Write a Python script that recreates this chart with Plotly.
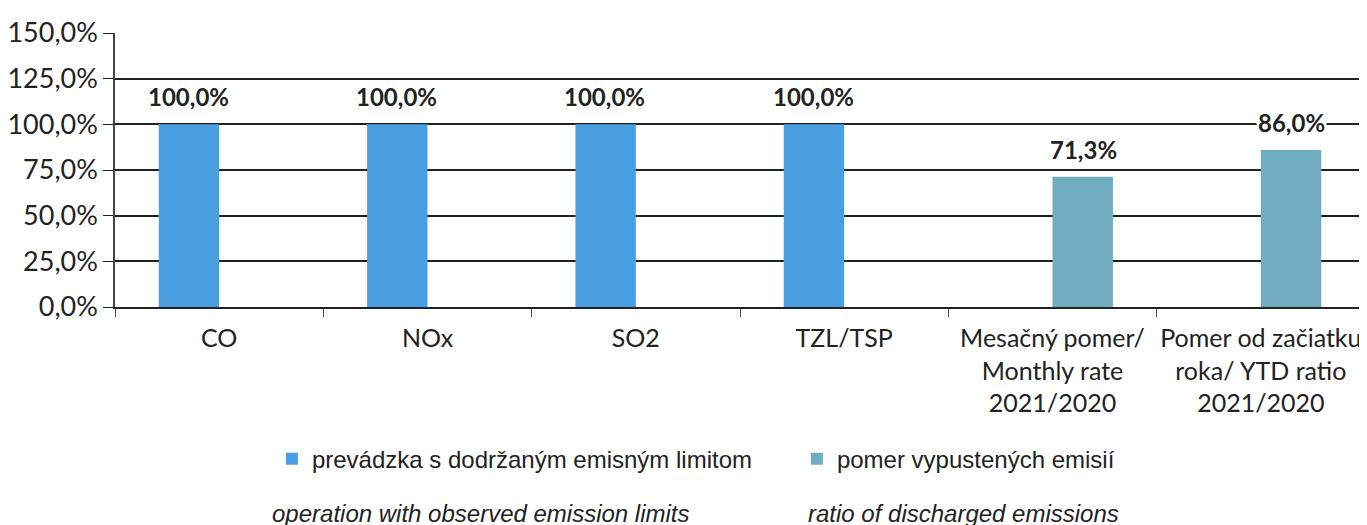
import plotly.graph_objects as go

categories = ["CO", "NOx", "SO2", "TZL/TSP",
              "Mesačný pomer/<br>Monthly rate<br>2021/2020",
              "Pomer od začiatku<br>roka/ YTD ratio<br>2021/2020"]
compliance = [100.0, 100.0, 100.0, 100.0, None, None]
ratio = [None, None, None, None, 71.3, 86.0]
series_names = ["prevádzka s dodržaným emisným limitom", "pomer vypustených emisií"]
series_en = ["operation with observed emission limits", "ratio of discharged emissions"]
yticks = [0, 25, 50, 75, 100, 125, 150]
ytick_labels = [f"{v:.1f}%".replace(".", ",") for v in yticks]

BLUE = "#4A9FE2"
TEAL = "#6FADBF"
FONT = "Lato, Carlito, Calibri, sans-serif"
NARROW = "Liberation Sans Narrow, Arial Narrow, Liberation Sans, sans-serif"

fig = go.Figure()
fig.add_trace(go.Bar(x=categories, y=compliance, name=series_names[0],
                     marker=dict(color=BLUE, line=dict(width=0))))
fig.add_trace(go.Bar(x=categories, y=ratio, name=series_names[1],
                     marker=dict(color=TEAL, line=dict(width=0))))

annotations = []
for vals, shift in ((compliance, -31), (ratio, 31)):
    for c, v in zip(categories, vals):
        if v is None:
            continue
        annotations.append(dict(x=c, y=v, xref="x", yref="y", xshift=shift, yshift=11,
                                yanchor="bottom", showarrow=False,
                                text=f"<b>{v:.1f}%</b>".replace(".", ","),
                                font=dict(family=FONT, size=24, color="#222"),
                                bgcolor="white", borderpad=1))
annotations.append(dict(x=0.124, y=-0.755, xref="paper", yref="paper", xanchor="left",
                        yanchor="middle", showarrow=False, text=f"<i>{series_en[0]}</i>",
                        font=dict(family=NARROW, size=24, color="#222")))
annotations.append(dict(x=0.553, y=-0.755, xref="paper", yref="paper", xanchor="left",
                        yanchor="middle", showarrow=False, text=f"<i>{series_en[1]}</i>",
                        font=dict(family=NARROW, size=24, color="#222")))

fig.update_layout(
    width=1367, height=525,
    margin=dict(l=107, r=10, t=25, b=226, autoexpand=False),
    paper_bgcolor="white", plot_bgcolor="white",
    separators=", ",
    barmode="group", bargap=0.42, bargroupgap=0,
    showlegend=True,
    legend=dict(orientation="h", x=0.1255, y=-0.555, xanchor="left", yanchor="middle",
                font=dict(family=NARROW, size=24, color="#222"),
                entrywidth=480, itemwidth=30, bgcolor="rgba(0,0,0,0)"),
    annotations=annotations,
    font=dict(family=FONT, color="#222"),
)
fig.update_xaxes(showline=True, linecolor="#222", linewidth=2, ticks="outside",
                 ticklen=8, tickcolor="#444", tickson="boundaries", tickangle=0,
                 automargin=False, ticklabelstandoff=8,
                 tickfont=dict(family=FONT, size=25, color="#222"), showgrid=False)
fig.update_yaxes(range=[0, 150], tickvals=yticks, ticktext=ytick_labels,
                 showline=True, linecolor="#444", linewidth=1.5, ticks="outside",
                 ticklen=10, tickcolor="#222", showgrid=True, gridcolor="#222", gridwidth=2,
                 automargin=False,
                 tickfont=dict(family=FONT, size=27, color="#222"), zeroline=False)

fig.write_html("out.html")
